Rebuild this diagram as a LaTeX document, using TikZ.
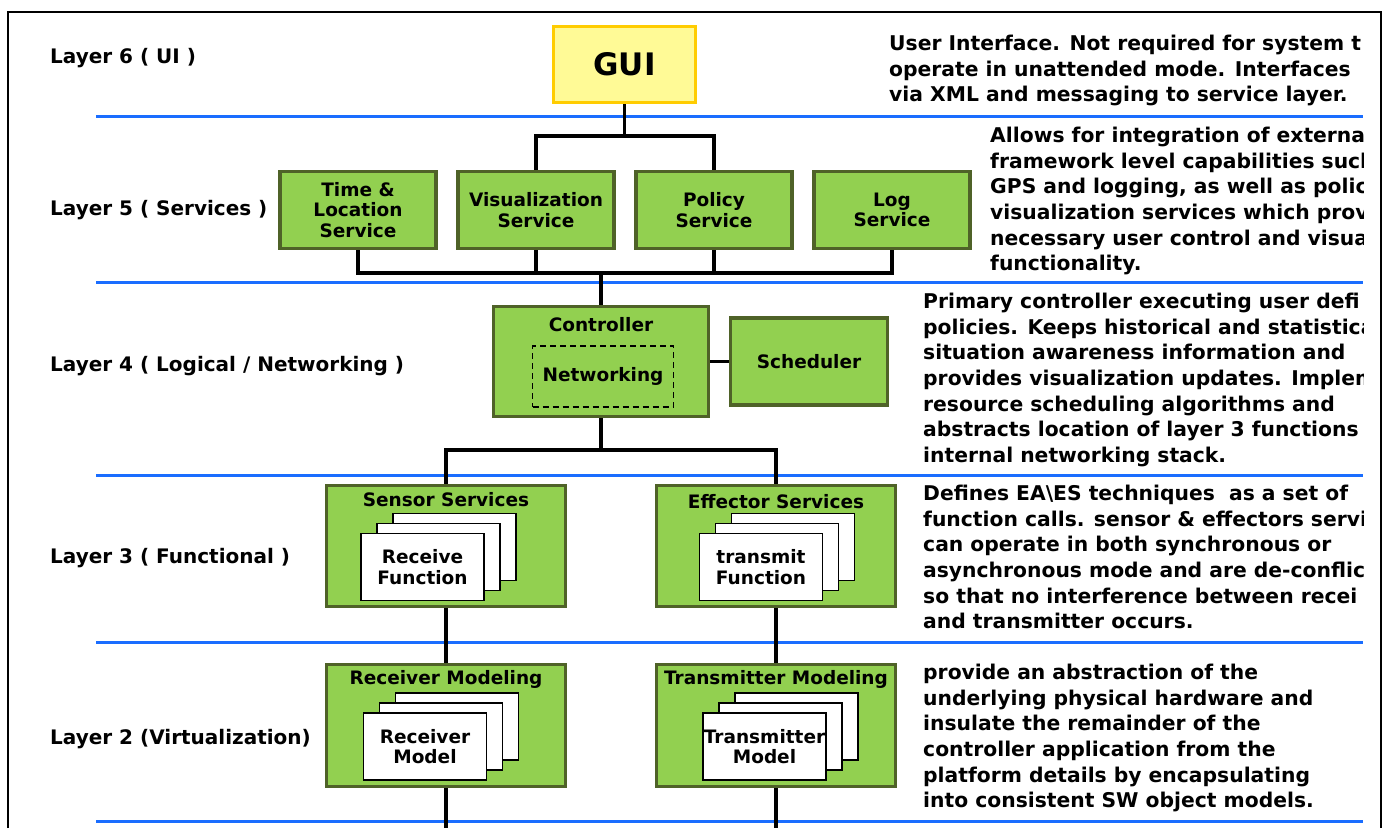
\documentclass[tikz,border=0pt]{standalone}
\usepackage{fontspec}
\setmainfont{DejaVu Sans}
\usepackage{xcolor}
\usetikzlibrary{calc}
\definecolor{boxgreen}{HTML}{92D050}
\definecolor{boxedge}{HTML}{4F6228}
\definecolor{guifill}{HTML}{FFFA96}
\definecolor{guiedge}{HTML}{FFCC00}
\definecolor{layerblue}{HTML}{1A6DFF}

\begin{document}
\begin{tikzpicture}[x=1pt, y=-1pt]
      % Define styles
      \tikzset{
        greenbox/.style={draw=boxedge, fill=boxgreen, line width=3.5pt, inner sep=0pt},
        guibox/.style={draw=guiedge, fill=guifill, line width=3.5pt, minimum width=142pt, minimum height=76pt, font=\bfseries\fontsize{31}{31}\selectfont},
        boxtext/.style={font=\bfseries\fontsize{18.5}{20.5}\selectfont, align=center, inner sep=0pt},
        card/.style={draw=black, fill=white, line width=1.6pt, minimum width=123pt, minimum height=67pt, inner sep=0pt},
        wire/.style={black, line width=3.4pt},
        divider/.style={layerblue, line width=3pt},
        layertext/.style={font=\bfseries\fontsize{20}{20}\selectfont, anchor=west, inner sep=0pt},
        desc/.style={font=\bfseries\fontsize{20.3}{25.6}\selectfont, align=left, anchor=north west, inner sep=0pt}
      }
      \useasboundingbox (0,0) rectangle (1383,828);
      \fill[white] (0,0) rectangle (1383,828);
      % Outer frame
      \draw[line width=2pt] (8,828) -- (8,12) -- (1381,12) -- (1381,828);
      % Layer separators
      \foreach \y in {116.5,282,475,642,821} {
        \draw[divider] (96,\y) -- (1363,\y);
      }
      % Layer names (left)
      \node[layertext] (l6) at (50,58) {Layer 6 ( UI )};
      \node[layertext] (l5) at (50,210) {Layer 5 ( Services )};
      \node[layertext] (l4) at (50,366) {Layer 4 ( Logical / Networking )};
      \node[layertext] (l3) at (50,558) {Layer 3 ( Functional )};
      \node[layertext] (l2) at (50,739) {Layer 2 (Virtualization)};

      % Layer 6
      \node[guibox] (gui) at (624.5,64.5) {GUI};
      % Layer 5
      \node[greenbox, boxtext, minimum width=156pt, minimum height=77pt] (tl) at (358,210) {Time \&\\Location\\Service};
      \node[greenbox, boxtext, minimum width=156pt, minimum height=77pt] (vis) at (536,210) {Visualization\\Service};
      \node[greenbox, boxtext, minimum width=156pt, minimum height=77pt] (pol) at (714,210) {Policy\\Service};
      \node[greenbox, boxtext, minimum width=156pt, minimum height=77pt] (log) at (892,210) {Log\\Service};
      % Layer 4
      \node[greenbox, minimum width=215pt, minimum height=110pt] (ctrl) at (601,361.5) {};
      \node[boxtext] (ctrltitle) at (601,325) {Controller};
      \node[boxtext, draw, dash pattern=on 6pt off 4pt, line width=1.3pt, minimum width=141pt, minimum height=61pt] (net) at (603,376.5) {Networking};
      \node[greenbox, boxtext, minimum width=157pt, minimum height=87pt] (sched) at (809,361.5) {Scheduler};
      % Layer 3 and Layer 2
      \node[greenbox, minimum width=239pt, minimum height=121pt] (sens) at (446,546) {};
      \node[greenbox, minimum width=239pt, minimum height=121pt] (eff) at (776,546) {};
      \node[greenbox, minimum width=239pt, minimum height=122pt] (rmod) at (446,725.5) {};
      \node[greenbox, minimum width=239pt, minimum height=122pt] (tmod) at (776,725.5) {};
      \node[boxtext] (senstitle) at (446,500) {Sensor Services};
      \node[boxtext] (efftitle) at (776,502) {Effector Services};
      \node[boxtext] (rmodtitle) at (446,679) {Receiver Modeling};
      \node[boxtext] (tmodtitle) at (776,679) {Transmitter Modeling};
      % Stacked function / model cards
      \foreach \cx/\cy/\nm/\txt in {422.5/567/rf/{Receive\\Function}, 761/567/tf/{transmit\\Function},
                                  425/746.5/rm/{Receiver\\Model}, 764.5/746.5/tm/{Transmitter\\Model}} {
        \node[card] (\nm-back) at ($(\cx,\cy)+(32,-20)$) {};
        \node[card] (\nm-mid) at ($(\cx,\cy)+(16,-10)$) {};
        \node[card, boxtext] (\nm) at (\cx,\cy) {\txt};
      }

      % Connectors
      \coordinate (guibus) at (624.5,136);
      \coordinate (svcbus) at (601,273);
      \coordinate (ctrlbus) at (601,450);
      \coordinate (pagebottom) at (0,828);
      \draw[wire] (gui.south) -- (guibus);
      \draw[wire] (vis.north) |- (guibus) -| (pol.north);
      \draw[wire] (tl.south) |- (svcbus) -| (log.south);
      \draw[wire] (vis.south) -- (vis.south |- svcbus);
      \draw[wire] (pol.south) -- (pol.south |- svcbus);
      \draw[wire] (svcbus) -- (ctrl.north);
      \draw[wire] (ctrl.east) -- (sched.west);
      \draw[wire] (ctrl.south) -- (ctrlbus);
      \draw[wire] (sens.north) |- (ctrlbus) -| (eff.north);
      \draw[wire] (sens.south) -- (rmod.north);
      \draw[wire] (eff.south) -- (tmod.north);
      \draw[wire] (rmod.south) -- (rmod.south |- pagebottom);
      \draw[wire] (tmod.south) -- (tmod.south |- pagebottom);

      % Layer descriptions (right), cut at the separator end
      \begin{scope}
        \clip (0,0) rectangle (1363,828);
        \node[desc] (d6) at (889,35) {User Interface. Not required for system t\\operate in unattended mode. Interfaces\\via XML and messaging to service layer.};
        \node[desc] (d5) at (990,127) {Allows for integration of externa\\framework level capabilities such\\GPS and logging, as well as policy\\visualization services which provi\\necessary user control and visua\\functionality.};
        \node[desc] (d4) at (923,293) {Primary controller executing user defi\\policies. Keeps historical and statistica\\situation awareness information and\\provides visualization updates. Implem\\resource scheduling algorithms and\\abstracts location of layer 3 functions\\internal networking stack.};
        \node[desc] (d3) at (923,485) {Defines EA\textbackslash ES techniques\ \ as a set of\\function calls. sensor \& effectors servi\\can operate in both synchronous or\\asynchronous mode and are de-conflic\\so that no interference between recei\\and transmitter occurs.};
        \node[desc] (d2) at (923,664) {provide an abstraction of the\\underlying physical hardware and\\insulate the remainder of the\\controller application from the\\platform details by encapsulating\\into consistent SW object models.};
      \end{scope}
\end{tikzpicture}
\end{document}
